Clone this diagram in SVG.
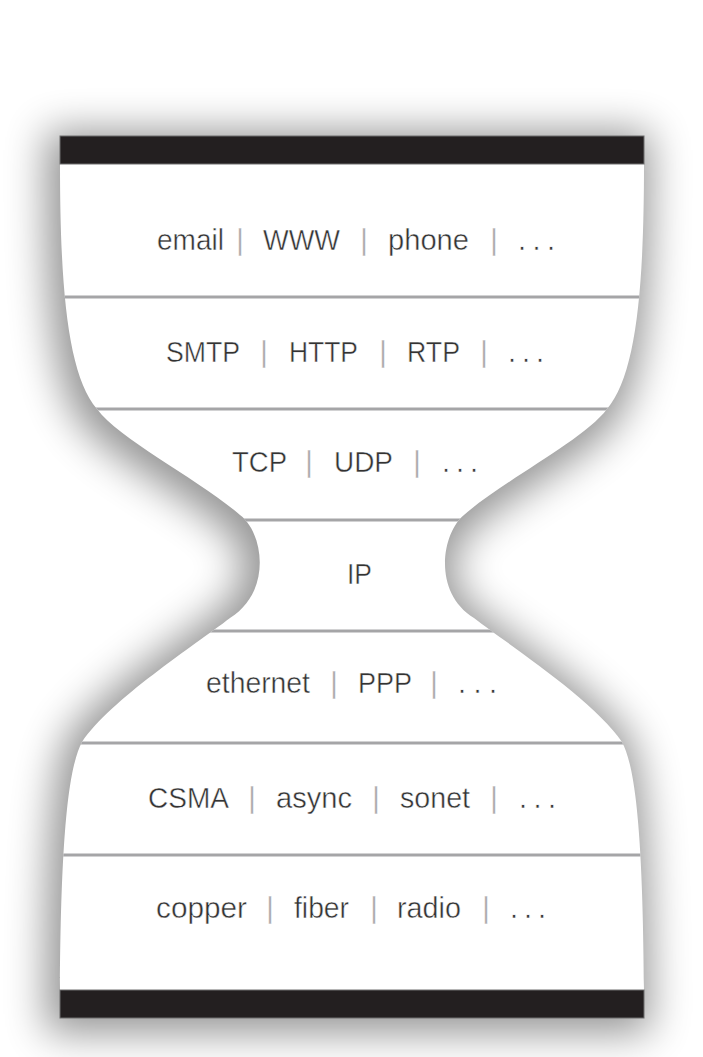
<svg xmlns="http://www.w3.org/2000/svg" width="703" height="1057" viewBox="0 0 703 1057">
  <style>
    .t { font-family: "Liberation Sans", Arial, Helvetica, sans-serif; font-size: 29px; fill: #333333; stroke: #ffffff; stroke-width: 0.45px; }
    .b { font-family: "Liberation Sans", Arial, Helvetica, sans-serif; font-size: 29px; fill: #a8a8a8; text-anchor: middle; stroke: #ffffff; stroke-width: 0.3px; }
    .div { stroke: #a5a5a7; stroke-width: 3; }
    .bar { fill: #231f20; stroke: #6e6e6e; stroke-width: 1; }
  </style>
  <defs>
    <path id="hg" d="M60,136 H644 V164 C644,290 636,375 607,409 C584,440 504,480 464,515 C442,533 432,592 474,618 C509,645 594,700 622,742 C634,765 643,820 644,990 V1018 H60 V990 C61,820 70,765 82,742 C110,700 195,645 230,618 C272,592 264,533 240,515 C200,480 120,440 97,409 C68,375 60,290 60,164 Z"/>
    <clipPath id="clip"><use href="#hg"/></clipPath>
    <filter id="shadow" x="-25%" y="-25%" width="150%" height="150%">
      <feMorphology in="SourceAlpha" operator="dilate" radius="10" result="d"/>
      <feGaussianBlur in="d" stdDeviation="20" result="bl"/>
      <feOffset in="bl" dx="-4" dy="5" result="o"/>
      <feComponentTransfer in="o"><feFuncA type="linear" slope="0.42"/></feComponentTransfer>
    </filter>
  </defs>
  <rect width="703" height="1057" fill="#ffffff"/>
  <g id="hourglass">
    <use href="#hg" fill="#000" filter="url(#shadow)"/>
    <use href="#hg" fill="#ffffff"/>
    <rect class="bar" x="60" y="136" width="584" height="28"/>
    <rect class="bar" x="60" y="990" width="584" height="28"/>
  </g>
  <g id="connectors" clip-path="url(#clip)">
    <line class="div" x1="40" y1="297" x2="664" y2="297"/>
    <line class="div" x1="40" y1="409" x2="664" y2="409"/>
    <line class="div" x1="40" y1="520" x2="664" y2="520"/>
    <line class="div" x1="40" y1="631" x2="664" y2="631"/>
    <line class="div" x1="40" y1="743" x2="664" y2="743"/>
    <line class="div" x1="40" y1="855" x2="664" y2="855"/>
  </g>
  <g id="layer-application">
    <text class="t" x="157" y="250" textLength="67" lengthAdjust="spacingAndGlyphs">email</text>
    <text class="b" x="240" y="250">|</text>
    <text class="t" x="263" y="250" textLength="77" lengthAdjust="spacingAndGlyphs">WWW</text>
    <text class="b" x="364" y="250">|</text>
    <text class="t" x="388" y="250" textLength="81" lengthAdjust="spacingAndGlyphs">phone</text>
    <text class="b" x="494" y="250">|</text>
    <text class="t" x="518" y="250" textLength="37" lengthAdjust="spacing">. . .</text>
  </g>
  <g id="layer-protocol">
    <text class="t" x="166" y="362" textLength="74" lengthAdjust="spacingAndGlyphs">SMTP</text>
    <text class="b" x="264" y="362">|</text>
    <text class="t" x="289" y="362" textLength="69" lengthAdjust="spacingAndGlyphs">HTTP</text>
    <text class="b" x="383" y="362">|</text>
    <text class="t" x="407" y="362" textLength="53" lengthAdjust="spacingAndGlyphs">RTP</text>
    <text class="b" x="484" y="362">|</text>
    <text class="t" x="508" y="362" textLength="36" lengthAdjust="spacing">. . .</text>
  </g>
  <g id="layer-transport">
    <text class="t" x="232" y="472" textLength="55" lengthAdjust="spacingAndGlyphs">TCP</text>
    <text class="b" x="309" y="472">|</text>
    <text class="t" x="334" y="472" textLength="59" lengthAdjust="spacingAndGlyphs">UDP</text>
    <text class="b" x="417" y="472">|</text>
    <text class="t" x="442" y="472" textLength="36" lengthAdjust="spacing">. . .</text>
  </g>
  <g id="layer-ip">
    <text class="t" x="347" y="584" textLength="25" lengthAdjust="spacingAndGlyphs">IP</text>
  </g>
  <g id="layer-link">
    <text class="t" x="206" y="693" textLength="104" lengthAdjust="spacingAndGlyphs">ethernet</text>
    <text class="b" x="334" y="693">|</text>
    <text class="t" x="358" y="693" textLength="54" lengthAdjust="spacingAndGlyphs">PPP</text>
    <text class="b" x="434" y="693">|</text>
    <text class="t" x="458" y="693" textLength="39" lengthAdjust="spacing">. . .</text>
  </g>
  <g id="layer-mac">
    <text class="t" x="148" y="808" textLength="81" lengthAdjust="spacingAndGlyphs">CSMA</text>
    <text class="b" x="252" y="808">|</text>
    <text class="t" x="276" y="808" textLength="76" lengthAdjust="spacingAndGlyphs">async</text>
    <text class="b" x="376" y="808">|</text>
    <text class="t" x="400" y="808" textLength="70" lengthAdjust="spacingAndGlyphs">sonet</text>
    <text class="b" x="494" y="808">|</text>
    <text class="t" x="519" y="808" textLength="37" lengthAdjust="spacing">. . .</text>
  </g>
  <g id="layer-physical">
    <text class="t" x="156" y="918" textLength="91" lengthAdjust="spacingAndGlyphs">copper</text>
    <text class="b" x="270" y="918">|</text>
    <text class="t" x="294" y="918" textLength="55" lengthAdjust="spacingAndGlyphs">fiber</text>
    <text class="b" x="374" y="918">|</text>
    <text class="t" x="397" y="918" textLength="64" lengthAdjust="spacingAndGlyphs">radio</text>
    <text class="b" x="486" y="918">|</text>
    <text class="t" x="510" y="918" textLength="36" lengthAdjust="spacing">. . .</text>
  </g>
</svg>
